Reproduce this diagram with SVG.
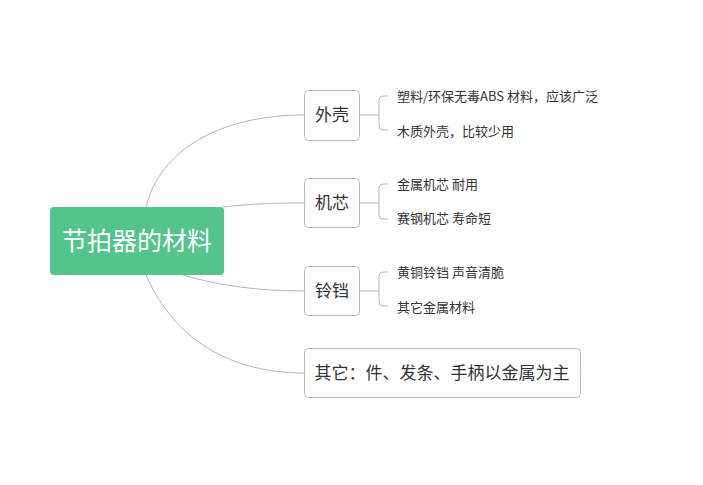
<svg xmlns="http://www.w3.org/2000/svg" width="703" height="485" viewBox="0 0 703 485">
<style>
.c{fill:none;stroke:#b5b5b5;stroke-width:1}
.b{fill:#fff;stroke:#b8b8b8;stroke-width:1}
.t{font-family:"Noto Sans CJK SC","Liberation Sans",sans-serif;fill:#333}
.m{font-size:17px}
.s{font-size:13px}
</style>
<rect width="703" height="485" fill="#fff"/>
<g id="connectors">
<path class="c" d="M146,207 C160,150 220,115 304,115"/>
<path class="c" d="M222,207 C250,204 270,203 304,203"/>
<path class="c" d="M183,275 C220,286 260,291 304,291"/>
<path class="c" d="M146,275 C170,330 220,373 304,373"/>
<path class="c" d="M359,115 H379 M388,96 H383 Q379,96 379,100 V126 Q379,130 383,130 H388"/>
<path class="c" d="M359,203 H379 M388,184 H383 Q379,184 379,188 V215 Q379,219 383,219 H388"/>
<path class="c" d="M359,291 H379 M388,272 H383 Q379,272 379,276 V302 Q379,306 383,306 H388"/>
</g>
<g id="root">
<rect x="50" y="207" width="174" height="68" rx="4" fill="#52c48c"/>
<text x="137" y="250" text-anchor="middle" font-size="25" font-family="Noto Sans CJK SC,sans-serif" fill="#fff">节拍器的材料</text>
</g>
<g id="n-shell">
<rect class="b" x="304.5" y="90.5" width="55" height="50" rx="4"/>
<text class="t m" x="332" y="121" text-anchor="middle">外壳</text>
</g>
<g id="n-shell-1"><text class="t s" x="397" y="101">塑料/环保无毒ABS 材料，应该广泛</text></g>
<g id="n-shell-2"><text class="t s" x="397" y="136">木质外壳，比较少用</text></g>
<g id="n-core">
<rect class="b" x="304.5" y="178.5" width="55" height="49" rx="4"/>
<text class="t m" x="332" y="209" text-anchor="middle">机芯</text>
</g>
<g id="n-core-1"><text class="t s" x="397" y="189">金属机芯 耐用</text></g>
<g id="n-core-2"><text class="t s" x="397" y="223">赛钢机芯 寿命短</text></g>
<g id="n-bell">
<rect class="b" x="304.5" y="266.5" width="55" height="49" rx="4"/>
<text class="t m" x="332" y="297" text-anchor="middle">铃铛</text>
</g>
<g id="n-bell-1"><text class="t s" x="397" y="277">黄铜铃铛 声音清脆</text></g>
<g id="n-bell-2"><text class="t s" x="397" y="312">其它金属材料</text></g>
<g id="n-other">
<rect class="b" x="304.5" y="348.5" width="276" height="49" rx="4"/>
<text class="t m" x="442" y="379" text-anchor="middle">其它：件、发条、手柄以金属为主</text>
</g>
</svg>
